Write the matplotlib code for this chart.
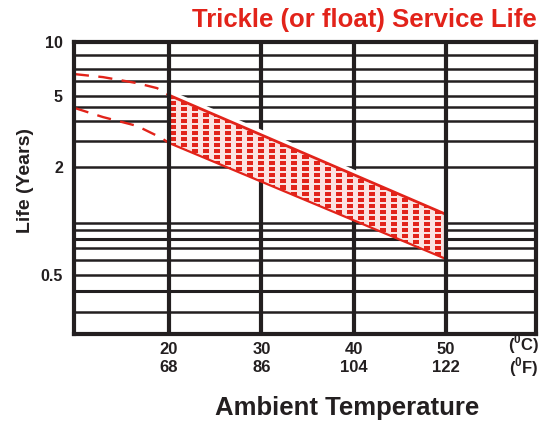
import numpy as np
import matplotlib
matplotlib.use("Agg")
import matplotlib.pyplot as plt

# --- data ---
temp_c = [20, 30, 40, 50]
temp_f = [68, 86, 104, 122]
life_ticks = [10, 5, 2, 0.5]
life_ticklabels = ["10", "5", "2", "0.5"]

# horizontal rules of the printed grid (years)
grid_life = [8.46, 7.07, 6.05, 5.0, 4.32, 3.61, 2.80, 2.0,
             0.98, 0.89, 0.79, 0.71, 0.605, 0.5, 0.405, 0.31]

# service life band, 20-50 degC
band_temp = [20, 50]
band_high = [5.05, 1.09]
band_low = [2.73, 0.614]

# dashed extrapolation below 20 degC
ext_hi_temp = [9.8, 12.85, 16.5, 18.7, 20]
ext_hi_life = [6.62, 6.37, 5.90, 5.53, 5.05]
ext_lo_temp = [9.8, 12.85, 16.53, 19.03, 20]
ext_lo_life = [4.28, 3.81, 3.40, 2.94, 2.73]

RED = "#e2231a"
INK = "#231f20"

plt.rcParams["font.family"] = ["Liberation Sans", "DejaVu Sans"]
plt.rcParams["font.weight"] = "bold"
plt.rcParams["mathtext.fontset"] = "custom"
plt.rcParams["mathtext.rm"] = "Liberation Sans:bold"
plt.rcParams["mathtext.bf"] = "Liberation Sans:bold"

fig = plt.figure(figsize=(5.56, 4.26), dpi=100)
ax = fig.add_axes([0.1331, 0.216, 0.831, 0.686])
ax.set_yscale("log")

# grid rules
for v in grid_life:
    lw = 2.2 if v in (0.79, 0.405) else 1.8
    ax.axhline(v, color=INK, lw=lw, zorder=1)
for t in temp_c:
    top = t in (20, 50)
    ax.axvline(t, color=INK, lw=3, zorder=5 if top else 1)

# white knock-out behind the band (a little taller than the band)
pad = 1.07
ax.fill_between(band_temp, band_low, [h * pad for h in band_high],
                facecolor="white", edgecolor="none", zorder=2)

# band itself, pale pink, also used to clip the dash texture
band = ax.fill_between(band_temp, band_low, band_high,
                       facecolor="#fbe3e1", edgecolor="none", zorder=3)

# red dash texture (pixel pattern, same size as axes)
tex_h, tex_w = 292, 462
yy, xx = np.mgrid[0:tex_h, 0:tex_w]
mask = ((xx + 3) % 11 < 6) & (yy % 6 < 4)
tex = np.zeros((tex_h, tex_w, 4))
tex[mask] = matplotlib.colors.to_rgba(RED)
im = ax.imshow(tex, extent=(0, 1, 0, 1), transform=ax.transAxes,
               interpolation="nearest", aspect="auto", zorder=3)
im.set_clip_path(band.get_paths()[0], band.get_transform())

# band edges
ax.plot(band_temp, band_high, color=RED, lw=2.0, zorder=4)
ax.plot(band_temp, band_low, color=RED, lw=1.6, zorder=4)

# dashed extrapolation
ax.plot(ext_hi_temp, ext_hi_life, color=RED, lw=1.7, dashes=(6, 4), zorder=4)
ax.plot(ext_lo_temp, ext_lo_life, color=RED, lw=1.7, dashes=(6, 4), zorder=4)

ax.set_xlim(9.71, 59.75)
ax.set_ylim(0.234, 10.04)

for s in ax.spines.values():
    s.set_linewidth(3)
    s.set_color(INK)
    s.set_zorder(6)

ax.yaxis.set_major_locator(matplotlib.ticker.FixedLocator(life_ticks))
ax.yaxis.set_minor_locator(matplotlib.ticker.NullLocator())
ax.set_yticklabels(life_ticklabels)
ax.tick_params(axis="y", length=0, pad=8, labelsize=11.5, colors=INK)

ax.set_xticks(temp_c)
ax.set_xticklabels([f"{c}\n{f}" for c, f in zip(temp_c, temp_f)])
ax.tick_params(axis="x", length=0, pad=6, labelsize=12, colors=INK)

# unit labels at the right end of the temperature axis
unit_x = 58.45
ax.annotate("($^{0}$C)", (unit_x, -0.035), xycoords=("data", "axes fraction"),
            ha="center", va="center", fontsize=12, color=INK, annotation_clip=False)
ax.annotate("($^{0}$F)", (unit_x, -0.112), xycoords=("data", "axes fraction"),
            ha="center", va="center", fontsize=12, color=INK, annotation_clip=False)

fig.text(0.03, 0.577, "Life (Years)", rotation=90, ha="left", va="center",
         fontsize=14, fontweight="bold", color=INK)
fig.text(0.624, 0.042, "Ambient Temperature", ha="center", va="center",
         fontsize=18.5, fontweight="bold", color=INK)
fig.text(0.966, 0.953, "Trickle (or float) Service Life", ha="right", va="center",
         fontsize=18.5, fontweight="bold", color=RED)

fig.savefig("out.png", dpi=100)
